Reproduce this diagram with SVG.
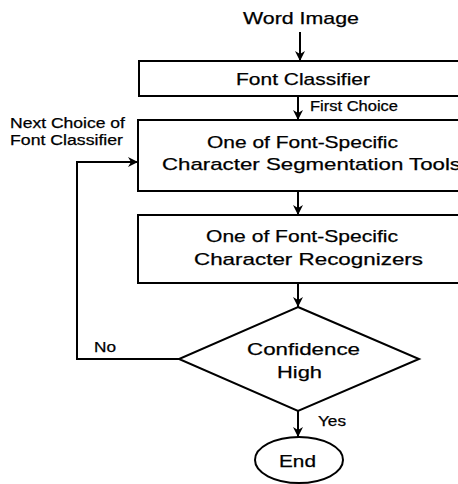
<svg xmlns="http://www.w3.org/2000/svg" width="458" height="484" viewBox="0 0 458 484">
<style>
.box{fill:#fff;stroke:#000;stroke-width:2}
.ln{fill:none;stroke:#000;stroke-width:2}
text{font-family:"Liberation Sans",Arial,sans-serif;fill:#000;stroke:#000;stroke-width:0.25}
.t{font-size:17px}
.s{font-size:14px}
</style>
<defs>
<marker id="ah" markerWidth="10" markerHeight="12" viewBox="0 0 10 12" refX="10" refY="6" orient="auto" markerUnits="userSpaceOnUse">
<path d="M0,1 L10,6 L0,11 L3,6 Z" fill="#000"/>
</marker>
</defs>
<rect width="458" height="484" fill="#fff"/>
<g id="connectors">
<line class="ln" x1="300" y1="32" x2="300" y2="61" marker-end="url(#ah)"/>
<line class="ln" x1="298" y1="96" x2="298" y2="120" marker-end="url(#ah)"/>
<line class="ln" x1="298" y1="191" x2="298" y2="215" marker-end="url(#ah)"/>
<line class="ln" x1="298" y1="283" x2="298" y2="307" marker-end="url(#ah)"/>
<line class="ln" x1="298" y1="411" x2="298" y2="437" marker-end="url(#ah)"/>
<polyline class="ln" points="179,359 77,359 77,162 138,162" marker-end="url(#ah)"/>
<text class="s" x="310" y="111" textLength="88" lengthAdjust="spacingAndGlyphs">First Choice</text>
<text class="s" x="10" y="128" textLength="115" lengthAdjust="spacingAndGlyphs">Next Choice of</text>
<text class="s" x="10" y="145" textLength="113" lengthAdjust="spacingAndGlyphs">Font Classifier</text>
<text class="s" x="94" y="352" textLength="22" lengthAdjust="spacingAndGlyphs">No</text>
<text class="s" x="318" y="426" textLength="28" lengthAdjust="spacingAndGlyphs">Yes</text>
</g>
<g id="word-image">
<text class="t" x="243" y="24" textLength="116" lengthAdjust="spacingAndGlyphs">Word Image</text>
</g>
<g id="font-classifier">
<rect class="box" x="139" y="61" width="330" height="35"/>
<text class="t" x="236" y="85" textLength="134" lengthAdjust="spacingAndGlyphs">Font Classifier</text>
</g>
<g id="segmentation">
<rect class="box" x="138" y="120" width="330" height="71"/>
<text class="t" x="207" y="148" textLength="191" lengthAdjust="spacingAndGlyphs">One of Font-Specific</text>
<text class="t" x="162" y="170" textLength="299" lengthAdjust="spacingAndGlyphs">Character Segmentation Tools</text>
</g>
<g id="recognizers">
<rect class="box" x="138" y="215" width="330" height="68"/>
<text class="t" x="206" y="242" textLength="192" lengthAdjust="spacingAndGlyphs">One of Font-Specific</text>
<text class="t" x="194" y="265" textLength="229" lengthAdjust="spacingAndGlyphs">Character Recognizers</text>
</g>
<g id="confidence">
<polygon class="box" points="298,307 419,359 298,411 179,359"/>
<text class="t" x="247" y="355" textLength="113" lengthAdjust="spacingAndGlyphs">Confidence</text>
<text class="t" x="277" y="378" textLength="45" lengthAdjust="spacingAndGlyphs">High</text>
</g>
<g id="end">
<ellipse class="box" cx="299" cy="460" rx="44" ry="23"/>
<text class="t" x="279" y="467" textLength="37" lengthAdjust="spacingAndGlyphs">End</text>
</g>
</svg>
